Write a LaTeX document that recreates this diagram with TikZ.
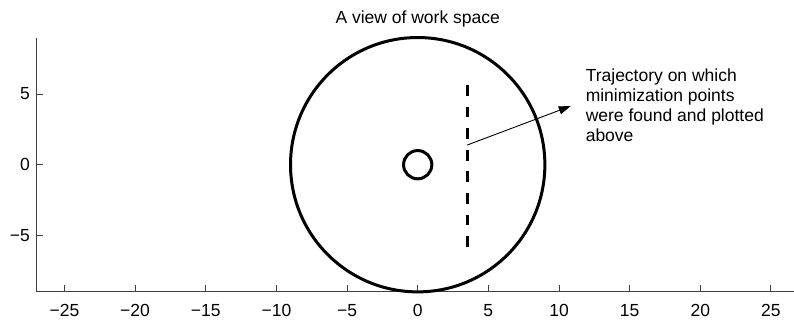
\documentclass[tikz,border=0pt]{standalone}
\usepackage{fontspec}
\setmainfont{Liberation Sans}
\usetikzlibrary{arrows.meta}
\begin{document}
\begin{tikzpicture}[x=14.13pt,y=14.13pt,
  axisline/.style={draw=black!75,line width=1pt},
  lab/.style={inner sep=0pt,font=\fontsize{17.5}{20}\selectfont},
  ring/.style={draw=black,line width=3pt},
  traj/.style={draw=black,line width=3pt,dash pattern=on 10.7pt off 10.9pt},
  pointer/.style={draw=black,line width=0.9pt,-{Triangle[length=12pt,width=8pt]}}]
\useasboundingbox (-29.56,-10.99) rectangle (26.63,11.656);
% axes
\coordinate (o) at (-27,-9);
\coordinate (ytop) at (-27,9);
\coordinate (xend) at (26.7,-9);
\draw[axisline] (ytop) -- (o) -- (xend);
\foreach \v in {-25,-20,-15,-10,-5,0,5,10,15,20,25}{
  \draw[axisline] (\v,-9) -- (\v,-8.5);
}
\foreach \v/\t/\n in {-25/−25/m25,-20/−20/m20,-15/−15/m15,-10/−10/m10,-5/−5/m5,0/0/z,5/5/p5,10/10/p10,15/15/p15,20/20/p20,25/25/p25}{
  \node[lab,anchor=base] (xl\n) at (\v,-10.72) {\t};
}
\foreach \v/\t/\n in {-5/−5/m5,0/0/z,5/5/p5}{
  \draw[axisline] (-27,\v) -- (-26.5,\v);
  \node[lab,anchor=east] (yl\n) at (-27.44,\v) {\t};
}
% title
\node[lab,anchor=base] (title) at (0,10) {A view of work space};
% circles
\draw[ring] (0,0) circle[radius=9];
\draw[ring] (0,0) circle[radius=1];
% trajectory
\coordinate (ttop) at (3.5,5.64);
\coordinate (tbot) at (3.5,-5.80);
\draw[traj] (ttop) -- (tbot);
% annotation
\coordinate (s) at (3.5,1.39);
\coordinate (e) at (10.83,4.15);
\draw[pointer] (s) -- (e);
\node[lab,anchor=north west,align=left] (note) at (11.88,6.79)
  {Trajectory on which\\minimization points\\were found and plotted\\above};
\end{tikzpicture}
\end{document}
